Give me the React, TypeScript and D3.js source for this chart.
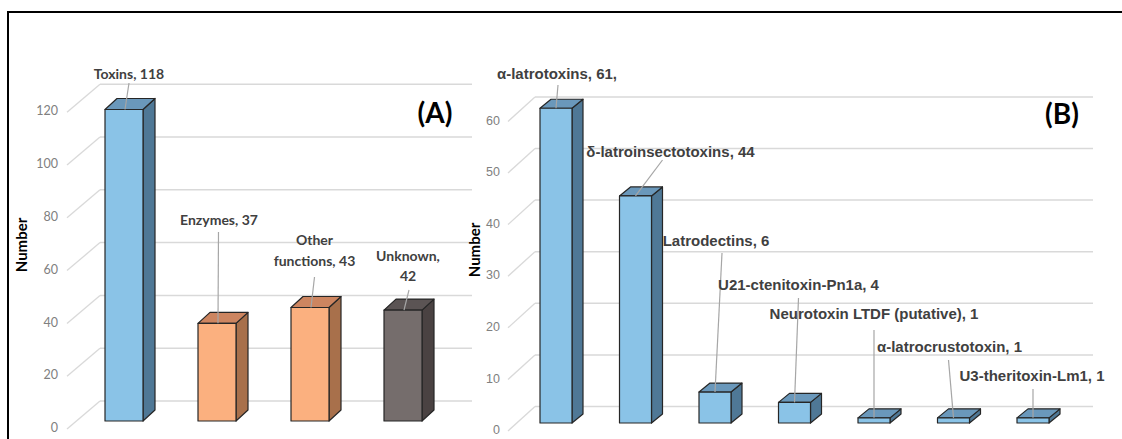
import * as d3 from 'd3';

// Panel A: functional categories
const catsA = ['Toxins', 'Enzymes', 'Other functions', 'Unknown'];
const valuesA = [118, 37, 43, 42];
const labelsA = [['Toxins, 118'], ['Enzymes, 37'], ['Other', 'functions, 43'], ['Unknown,', '42']];
const colorKeysA = ['blue', 'orange', 'orange', 'gray'];
const ticksA = [0, 20, 40, 60, 80, 100, 120];

// Panel B: toxin families
const catsB = [
  'α-latrotoxins',
  'δ-latroinsectotoxins',
  'Latrodectins',
  'U21-ctenitoxin-Pn1a',
  'Neurotoxin LTDF (putative)',
  'α-latrocrustotoxin',
  'U3-theritoxin-Lm1',
];
const valuesB = [61, 44, 6, 4, 1, 1, 1];
const labelsB = [
  'α-latrotoxins, 61,',
  'δ-latroinsectotoxins, 44',
  'Latrodectins, 6',
  'U21-ctenitoxin-Pn1a, 4',
  'Neurotoxin LTDF (putative), 1',
  'α-latrocrustotoxin, 1',
  'U3-theritoxin-Lm1, 1',
];
const ticksB = [0, 10, 20, 30, 40, 50, 60];

const palette: Record<string, { front: string; side: string; top: string }> = {
  blue: { front: '#8AC3E7', side: '#4F7896', top: '#6A98BB' },
  orange: { front: '#FBB07F', side: '#A8704B', top: '#CD8560' },
  gray: { front: '#756D6C', side: '#4A4242', top: '#5B5454' },
};

// label placement: offset from bar centre (px) and line y positions, leader start
const labelLayoutA = [
  { dx: 5, ys: [75], lead: [5, 83] },
  { dx: 2, ys: [221], lead: [1.5, 232] },
  { dx: 4.5, ys: [241, 262], lead: [4.5, 277] },
  { dx: 5, ys: [257, 277], lead: [6, 290] },
];
const labelLayoutB = [
  { dx: 1, y: 75, lead: [2, 85] },
  { dx: 35, y: 153, lead: [27, 160] },
  { dx: 1, y: 242, lead: [7, 253] },
  { dx: 4, y: 286, lead: [4, 298] },
  { dx: 0, y: 315, lead: [0, 330] },
  { dx: -4, y: 348, lead: [-5, 360] },
  { dx: -1, y: 377, lead: [0, 389] },
];

const fontA = "Lato, 'Open Sans', sans-serif";
const fontB = "'Liberation Sans', Arial, sans-serif";
const edge = '#262626';
const gridColor = '#d9d9d9';
const leaderColor = '#a6a6a6';

type Panel = {
  x: d3.ScalePoint<string>;
  y: d3.ScaleLinear<number, number>;
  barW: number;
  ddx: number;
  ddy: number;
  gridBack: number;
  gridFront: number;
  xFront: number;
  xBack: number;
  xEnd: number;
  tickX: number;
  ticks: number[];
  tickFont: string;
};

function Bar3D({ cx, v, p, colors }: { cx: number; v: number; p: Panel; colors: { front: string; side: string; top: string } }) {
  const x = cx - p.barW / 2;
  const yt = p.y(v);
  const yb = p.y(0);
  const w = p.barW;
  const { ddx, ddy } = p;
  const side = [[x + w, yt], [x + w + ddx, yt + ddy], [x + w + ddx, yb + ddy], [x + w, yb]];
  const top = [[x, yt], [x + ddx, yt + ddy], [x + w + ddx, yt + ddy], [x + w, yt]];
  return (
    <g stroke={edge} strokeWidth={1.2} strokeLinejoin="round">
      <polygon points={side.map(d => d.join(',')).join(' ')} fill={colors.side} />
      <polygon points={top.map(d => d.join(',')).join(' ')} fill={colors.top} />
      <rect x={x} y={yt} width={w} height={yb - yt} fill={colors.front} />
    </g>
  );
}

function Grid({ p }: { p: Panel }) {
  return (
    <g>
      {p.ticks.map(t => {
        const yv = p.y(t);
        return (
          <g key={t}>
            <line x1={p.xFront} y1={yv + p.gridFront} x2={p.xBack} y2={yv + p.gridBack} stroke={gridColor} strokeWidth={1.3} />
            <line x1={p.xBack} y1={yv + p.gridBack} x2={p.xEnd} y2={yv + p.gridBack} stroke={gridColor} strokeWidth={1.5} />
            <text x={p.tickX} y={yv + p.gridFront} textAnchor="end" dominantBaseline="middle" fontSize={12.5} fill="#808080" fontFamily={p.tickFont}>
              {t}
            </text>
          </g>
        );
      })}
    </g>
  );
}

export default function App() {
  const pA: Panel = {
    x: d3.scalePoint<string>().domain(catsA).range([124, 403]),
    y: d3.scaleLinear().domain([0, 120]).range([421, 104.2]),
    barW: 38,
    ddx: 12,
    ddy: -11,
    gridBack: -20,
    gridFront: 8,
    xFront: 67,
    xBack: 100,
    xEnd: 472,
    tickX: 58,
    ticks: ticksA,
    tickFont: fontA,
  };
  const pB: Panel = {
    x: d3.scalePoint<string>().domain(catsB).range([556, 1033]),
    y: d3.scaleLinear().domain([0, 60]).range([423, 113.4]),
    barW: 32,
    ddx: 11,
    ddy: -9,
    gridBack: -16.5,
    gridFront: 8,
    xFront: 508,
    xBack: 535,
    xEnd: 1093,
    tickX: 500,
    ticks: ticksB,
    tickFont: fontB,
  };

  return (
    <svg width={1122} height={439} style={{ position: 'absolute', left: 0, top: 0, background: '#fff' }}>
      <rect x={0} y={0} width={1122} height={439} fill="#fff" />
      {/* outer frame, cut by the picture at right and bottom */}
      <rect x={8} y={12} width={1200} height={500} fill="none" stroke="#000" strokeWidth={2} />

      {/* Panel A */}
      <Grid p={pA} />
      <text transform="translate(23,245) rotate(-90)" textAnchor="middle" dominantBaseline="middle" fontSize={15} fontWeight="bold" fontFamily={fontA} fill="#000">
        Number
      </text>
      {catsA.map((c, i) => (
        <Bar3D key={c} cx={pA.x(c)!} v={valuesA[i]} p={pA} colors={palette[colorKeysA[i]]} />
      ))}
      {catsA.map((c, i) => {
        const cx = pA.x(c)!;
        const L = labelLayoutA[i];
        return (
          <g key={c}>
            <line x1={cx + L.lead[0]} y1={L.lead[1]} x2={cx + 1} y2={pA.y(valuesA[i])} stroke={leaderColor} strokeWidth={1.2} />
            {labelsA[i].map((s, j) => (
              <text key={j} x={cx + L.dx} y={L.ys[j]} textAnchor="middle" dominantBaseline="middle" fontSize={14} fontWeight="bold" fontFamily={fontA} fill="#404040">
                {s}
              </text>
            ))}
          </g>
        );
      })}
      <text x={435} y={116} textAnchor="middle" dominantBaseline="middle" fontSize={28} fontWeight="bold" fontFamily={fontA} fill="#000">
        (A)
      </text>

      {/* Panel B */}
      <Grid p={pB} />
      <text transform="translate(476,250) rotate(-90)" textAnchor="middle" dominantBaseline="middle" fontSize={15} fontWeight="bold" fontFamily={fontA} fill="#000">
        Number
      </text>
      {catsB.map((c, i) => (
        <Bar3D key={c} cx={pB.x(c)!} v={valuesB[i]} p={pB} colors={palette.blue} />
      ))}
      {catsB.map((c, i) => {
        const cx = pB.x(c)!;
        const L = labelLayoutB[i];
        return (
          <g key={c}>
            <line x1={cx + L.lead[0]} y1={L.lead[1]} x2={cx} y2={pB.y(valuesB[i])} stroke={leaderColor} strokeWidth={1.2} />
            <text x={cx + L.dx} y={L.y} textAnchor="middle" dominantBaseline="middle" fontSize={15} fontWeight="bold" fontFamily={fontB} fill="#404040">
              {labelsB[i]}
            </text>
          </g>
        );
      })}
      <text x={1062} y={117} textAnchor="middle" dominantBaseline="middle" fontSize={28} fontWeight="bold" fontFamily={fontA} fill="#000">
        (B)
      </text>
    </svg>
  );
}
